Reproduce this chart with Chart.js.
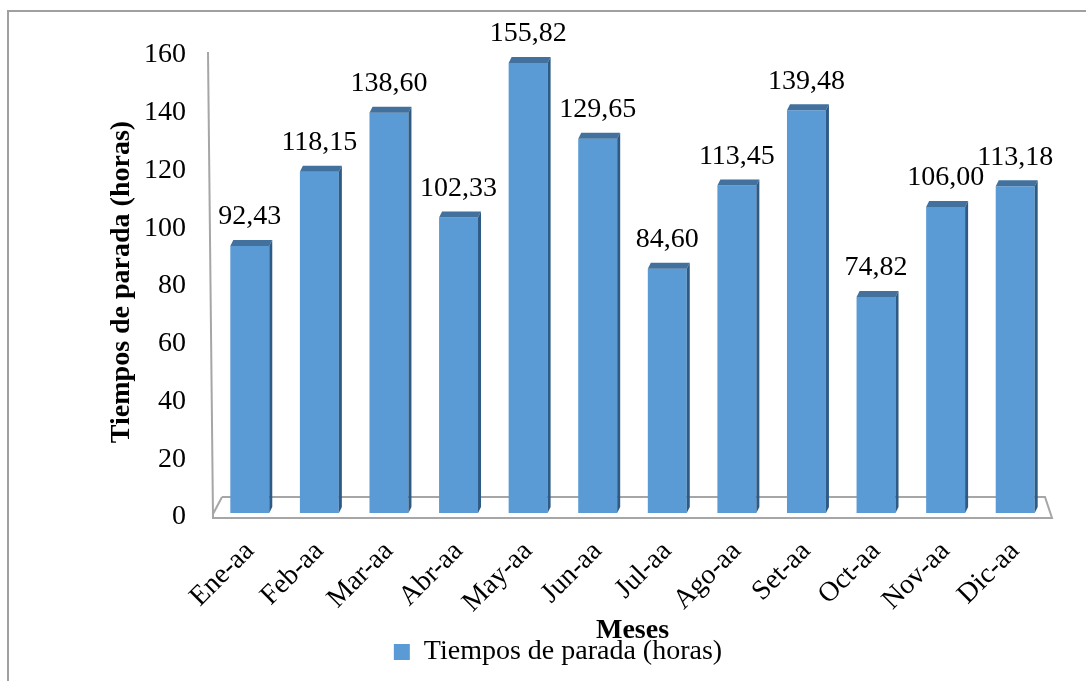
<!DOCTYPE html>
<html>
<head>
<meta charset="utf-8">
<script src="https://cdn.jsdelivr.net/npm/chart.js@4/dist/chart.umd.min.js"></script>
<style>
  html, body { margin: 0; padding: 0; background: #ffffff; }
  #wrap { position: relative; width: 1086px; height: 681px; }
</style>
</head>
<body>
<div id="wrap"><canvas id="c" width="1086" height="681"></canvas></div>
<script>
// Monthly downtime (hours)
const months = ['Ene-aa', 'Feb-aa', 'Mar-aa', 'Abr-aa', 'May-aa', 'Jun-aa',
                'Jul-aa', 'Ago-aa', 'Set-aa', 'Oct-aa', 'Nov-aa', 'Dic-aa'];
const downtimeHours = [92.43, 118.15, 138.60, 102.33, 155.82, 129.65,
                       84.60, 113.45, 139.48, 74.82, 106.00, 113.18];
const yTicks = [0, 20, 40, 60, 80, 100, 120, 140, 160];
const seriesName = 'Tiempos de parada (horas)';

const SERIF = "'Liberation Serif', 'Times New Roman', serif";
const FS = 28;
const FRONT = '#5b9bd5';
const TOP = '#41719c';
const SIDE = '#2e5b86';

const fmt = v => v.toFixed(2).replace('.', ',');

// Pseudo-3D decoration: frame, back wall edge and floor behind the bars,
// plus top/side faces and value labels on each bar.
const depth = { dx: 3, dy: 6 };
const decor = {
  id: 'decor',
  beforeDraw(chart) {
    const ctx = chart.ctx;
    ctx.save();
    ctx.strokeStyle = '#a0a0a0';
    ctx.lineWidth = 2;
    ctx.beginPath();
    ctx.moveTo(8, 690);
    ctx.lineTo(8, 11);
    ctx.lineTo(1100, 11);
    ctx.stroke();
    ctx.restore();
  },
  beforeDatasetsDraw(chart) {
    const { ctx, chartArea: a, scales } = chart;
    const y0 = scales.y.getPixelForValue(0);
    const yTop = scales.y.getPixelForValue(160);
    ctx.save();
    ctx.strokeStyle = '#a6a6a6';
    ctx.lineWidth = 2;
    // back wall edge
    ctx.beginPath();
    ctx.moveTo(a.left - 7, yTop + 1);
    ctx.lineTo(a.left - 2, y0 + 4);
    ctx.stroke();
    // floor
    ctx.beginPath();
    ctx.moveTo(a.left + 7, y0 - 16);
    ctx.lineTo(a.right - 5, y0 - 16);
    ctx.lineTo(a.right + 2, y0 + 5);
    ctx.lineTo(a.left - 2, y0 + 5);
    ctx.lineTo(a.left - 2, y0 + 1);
    ctx.lineTo(a.left + 7, y0 - 16);
    ctx.stroke();
    ctx.restore();
  },
  afterDatasetsDraw(chart) {
    const ctx = chart.ctx;
    const meta = chart.getDatasetMeta(0);
    ctx.save();
    meta.data.forEach((bar, i) => {
      const L = bar.x - bar.width / 2;
      const R = bar.x + bar.width / 2;
      const y = bar.y;
      const b = bar.base;
      // top face
      ctx.fillStyle = TOP;
      ctx.beginPath();
      ctx.moveTo(L, y);
      ctx.lineTo(R, y);
      ctx.lineTo(R + depth.dx, y - depth.dy);
      ctx.lineTo(L + depth.dx, y - depth.dy);
      ctx.closePath();
      ctx.fill();
      // right side face
      ctx.fillStyle = SIDE;
      ctx.beginPath();
      ctx.moveTo(R, y);
      ctx.lineTo(R + depth.dx, y - depth.dy);
      ctx.lineTo(R + depth.dx, b - depth.dy);
      ctx.lineTo(R, b);
      ctx.closePath();
      ctx.fill();
      // value label
      ctx.fillStyle = '#000000';
      ctx.font = FS + 'px ' + SERIF;
      ctx.textAlign = 'center';
      ctx.textBaseline = 'middle';
      ctx.fillText(fmt(downtimeHours[i]), bar.x, y - 29);
    });
    ctx.restore();
  }
};

new Chart(document.getElementById('c'), {
  type: 'bar',
  data: {
    labels: months,
    datasets: [{
      label: seriesName,
      data: downtimeHours,
      backgroundColor: FRONT,
      borderWidth: 0,
      barPercentage: 0.56,
      categoryPercentage: 1.0
    }]
  },
  options: {
    responsive: false,
    animation: false,
    devicePixelRatio: 1,
    layout: { padding: { left: 66, right: 36, top: 51, bottom: 5 } },
    plugins: {
      tooltip: { enabled: false },
      legend: {
        position: 'bottom',
        labels: {
          color: '#000000',
          font: { family: SERIF, size: FS },
          boxWidth: 16,
          boxHeight: 16,
          padding: 4
        }
      }
    },
    scales: {
      x: {
        grid: { display: false, drawTicks: false },
        border: { display: false },
        ticks: {
          color: '#000000',
          font: { family: SERIF, size: FS },
          minRotation: 45,
          maxRotation: 45,
          padding: 22
        },
        title: {
          display: true,
          text: 'Meses',
          color: '#000000',
          font: { family: SERIF, size: FS, weight: 'bold', lineHeight: 1 },
          padding: { top: 0, bottom: -11 }
        },
        afterFit(scale) { scale.height = 121; }
      },
      y: {
        min: 0,
        max: 160,
        grid: { display: false, drawTicks: false },
        border: { display: false },
        afterBuildTicks(scale) { scale.ticks = yTicks.map(v => ({ value: v })); },
        ticks: {
          color: '#000000',
          font: { family: SERIF, size: FS },
          padding: 29,
          labelOffset: 4
        },
        title: {
          display: true,
          text: seriesName,
          color: '#000000',
          font: { family: SERIF, size: FS, weight: 'bold', lineHeight: 1 },
          padding: { top: 42, bottom: 0 }
        },
        afterFit(scale) { scale.width = 149; }
      }
    }
  },
  plugins: [decor]
});
</script>
</body>
</html>
